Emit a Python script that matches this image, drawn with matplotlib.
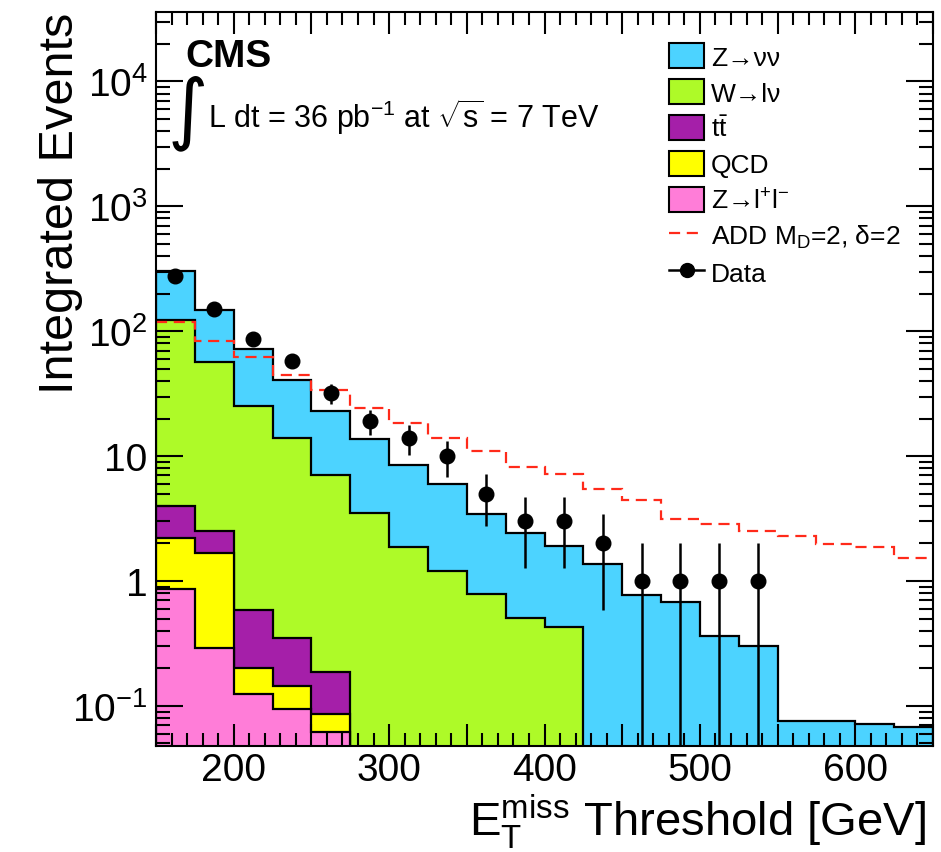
import numpy as np
import matplotlib
matplotlib.use("Agg")
import matplotlib.pyplot as plt
from matplotlib.patches import Patch
from matplotlib.lines import Line2D
from matplotlib.ticker import MultipleLocator, LogLocator, FuncFormatter, NullFormatter

plt.rcParams['font.family'] = ['Liberation Sans', 'DejaVu Sans']
plt.rcParams['mathtext.fontset'] = 'custom'
plt.rcParams['mathtext.rm'] = 'Liberation Sans'
plt.rcParams['mathtext.it'] = 'Liberation Sans:italic'
plt.rcParams['mathtext.bf'] = 'Liberation Sans:bold'

# MET threshold bins (GeV)
edges = np.arange(150, 651, 25)

# background components, integrated events above threshold
z_ll = [0.87, 0.29, 0.125, 0.095, 0.062, 0, 0, 0, 0, 0, 0, 0, 0, 0, 0, 0, 0, 0, 0, 0]
qcd = [1.35, 1.38, 0.076, 0.050, 0.024, 0, 0, 0, 0, 0, 0, 0, 0, 0, 0, 0, 0, 0, 0, 0]
ttbar = [1.76, 0.83, 0.384, 0.203, 0.100, 0, 0, 0, 0, 0, 0, 0, 0, 0, 0, 0, 0, 0, 0, 0]
w_lnu = [119, 54.4, 24.7, 13.55, 6.9, 3.5, 1.86, 1.21, 0.78, 0.51, 0.425,
         0, 0, 0, 0, 0, 0, 0, 0, 0]
z_nunu = [180, 90, 47.4, 26.7, 15.9, 10.2, 6.64, 4.72, 2.63, 1.93, 1.49,
          1.38, 0.77, 0.68, 0.362, 0.301, 0.075, 0.075, 0.071, 0.068]

# ADD signal, M_D=2, delta=2
add = [119, 83.7, 62.6, 44.5, 33.7, 24.1, 18.4, 13.9, 11.0, 8.15,
       7.13, 5.43, 4.45, 3.16, 2.88, 2.5, 2.28, 1.98, 1.87, 1.54]

# observed events
data = [275, 152, 87, 58, 32, 19, 14, 10, 5, 3, 3, 2, 1, 1, 1, 1]

names = ["Z→νν", "W→lν", r"t$\bar{\mathrm{t}}$", "QCD", r"Z→l$^{+}$l$^{-}$"]
colors = ["#4cd3ff", "#aefa28", "#a51fa9", "#ffff00", "#ff7dd8"]

YMIN, YMAX = 0.048, 3.6e4
floor = 1e-5

fig = plt.figure(figsize=(9.41, 8.53), dpi=100)
W, H = 941, 853
ax = fig.add_axes([156 / W, 1 - 746.7 / H, 777 / W, 733.7 / H])
ax.set_yscale("log")

# stack: cumulative sums, drawn from the total downwards
layers = [z_ll, qcd, ttbar, w_lnu, z_nunu]
cum = np.cumsum(np.array(layers, dtype=float), axis=0)
for i in range(len(layers) - 1, -1, -1):
    vals = np.where(cum[i] > 0, cum[i], floor)
    stack_col = colors[len(layers) - 1 - i]
    ax.stairs(vals, edges, baseline=floor, fill=True, color=stack_col, lw=0)
    ax.stairs(vals, edges, baseline=floor, color="black", lw=1.6)

ax.stairs(add, edges, baseline=None, color="#ff2a1a", lw=1.6,
          linestyle=(0, (5, 3)))

centers = 0.5 * (edges[:-1] + edges[1:])
d = np.array(data, dtype=float)
err = np.sqrt(d)
lo = d - np.maximum(d - err, floor)
ax.errorbar(centers[:len(d)], d, yerr=[lo, err], fmt="o", color="black",
            ms=10.5, elinewidth=1.8, capsize=0, zorder=5)

ax.set_xlim(150, 650)
ax.set_ylim(YMIN, YMAX)

ax.xaxis.set_major_locator(MultipleLocator(50))
ax.xaxis.set_minor_locator(MultipleLocator(10))
ax.xaxis.set_major_formatter(FuncFormatter(lambda v, p: f"{v:.0f}" if v % 100 == 0 else ""))
ax.yaxis.set_major_locator(LogLocator(base=10, numticks=20))
ax.yaxis.set_minor_locator(LogLocator(base=10, subs=np.arange(2, 10), numticks=20))
ax.yaxis.set_minor_formatter(NullFormatter())


def ylab(v, p):
    e = int(round(np.log10(v)))
    if e == 0:
        return "1"
    if e == 1:
        return "10"
    return r"$10^{%d}$" % e


ax.yaxis.set_major_formatter(FuncFormatter(ylab))
ax.tick_params(which="both", direction="in", top=True, right=True, width=1.5,
               labelsize=28)
ax.tick_params(axis="x", which="major", length=16, pad=4.5)
ax.tick_params(axis="x", which="minor", length=9.5)
ax.tick_params(axis="y", which="major", length=19.5, pad=6)
ax.tick_params(axis="y", which="minor", length=10)
for s in ax.spines.values():
    s.set_linewidth(1.5)

ax.set_xlabel(r"E$_{\mathrm{T}}^{\mathrm{miss}}$ Threshold [GeV]", fontsize=34,
              loc="right")
ax.xaxis.set_label_coords(0.991, -0.0631)
ax.set_ylabel("Integrated Events", fontsize=35, loc="top")
ax.yaxis.set_label_coords(-0.094, 1.0)

fig.text(185 / W, 1 - 67 / H, "CMS", fontsize=28, fontweight="bold", va="baseline")
fig.text(188 / W, 1 - 113 / H, "∫", fontsize=56, ha="center", va="center",
         family=["DejaVu Sans"])
fig.text(208 / W, 1 - 128 / H, r"L dt = 36 pb$^{-1}$ at $\sqrt{\mathrm{s}}$ = 7 TeV",
         fontsize=22, va="baseline")

handles = [Patch(facecolor=c, edgecolor="black", lw=1.5) for c in colors]
handles.append(Line2D([], [], color="#ff2a1a", lw=1.6, linestyle=(0, (5, 3))))
handles.append(Line2D([], [], color="black", lw=1.8, marker="o", ms=10))
labels = names + [r"ADD M$_{\mathrm{D}}$=2, δ=2", "Data"]
ax.legend(handles, labels, loc="upper left", bbox_to_anchor=(669 / W, 1 - 44 / H),
          bbox_transform=fig.transFigure, frameon=False, fontsize=19,
          borderpad=0, borderaxespad=0, handlelength=1.33, handleheight=1.1,
          labelspacing=0.35, handletextpad=0.25)

fig.savefig("out.png", dpi=100)
